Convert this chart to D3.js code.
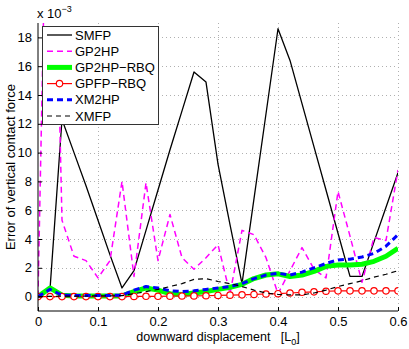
<!DOCTYPE html>
<html>
<head>
<meta charset="utf-8">
<script src="https://cdn.jsdelivr.net/npm/d3@7"></script>
<style>
  body { margin: 0; background: #fff; }
  text { font-family: "Liberation Sans", Arial, sans-serif; }
</style>
</head>
<body>
<div class="chart"></div>
<script>
// displacement samples [L0]
const xs = [0, 0.02, 0.04, 0.06, 0.08, 0.10, 0.12, 0.14, 0.16, 0.18, 0.20, 0.22, 0.24, 0.26, 0.28, 0.30,
            0.32, 0.34, 0.36, 0.38, 0.40, 0.42, 0.44, 0.46, 0.48, 0.50, 0.52, 0.54, 0.56, 0.58, 0.60];

// errors (x 1e-3)
const smfp    = [0, 0.5, 12.3, 10.0, 7.7, 5.3, 2.9, 0.6, 1.8, 4.6, 7.4, 10.2, 12.9, 15.6, 14.9, 9.2,
                 5.0, 0.9, 6.8, 12.7, 18.6, 16.4, 13.4, 10.4, 7.4, 4.4, 1.4, 1.4, 3.8, 6.2, 8.6];
const gp2hp   = [0, 42, 5.3, 2.8, 2.5, 1.3, 2.5, 8.0, 1.4, 7.9, 2.5, 5.7, 2.7, 1.9, 2.7, 3.6,
                 0.2, 4.6, 4.3, 2.7, 0.2, 1.8, 3.4, 1.9, 1.3, 7.3, 4.2, 1.0, 4.1, 3.9, 8.8];
const gp2hpRbq = [0, 0.6, 0.1, 0.05, 0.05, 0.05, 0.05, 0.05, 0.35, 0.6, 0.45, 0.2, 0.15, 0.25, 0.35, 0.5,
                 0.65, 0.85, 1.25, 1.5, 1.58, 1.4, 1.5, 1.75, 2.1, 2.2, 2.2, 2.25, 2.45, 2.8, 3.35];
const gpfpRbq = [0, 0, 0, 0, 0, 0, 0, 0, 0.01, 0.02, 0.02, 0.03, 0.04, 0.05, 0.06, 0.08,
                 0.1, 0.12, 0.15, 0.18, 0.2, 0.25, 0.3, 0.33, 0.37, 0.4, 0.4, 0.4, 0.4, 0.4, 0.4];
const xm2hp   = [0, 0.5, 0.1, 0.08, 0.08, 0.08, 0.08, 0.1, 0.45, 0.7, 0.6, 0.4, 0.35, 0.4, 0.5, 0.6,
                 0.7, 0.9, 1.25, 1.5, 1.62, 1.5, 1.7, 2.0, 2.3, 2.55, 2.6, 2.75, 3.0, 3.5, 4.3];
const xmfp    = [0, 0.02, 0.03, 0.03, 0.04, 0.05, 0.05, 0.07, 0.2, 0.35, 0.5, 0.7, 0.9, 1.2, 1.25, 1.05,
                 0.9, 0.7, 0.45, 0.25, 0.15, 0.12, 0.12, 0.25, 0.45, 0.7, 0.9, 1.1, 1.35, 1.55, 1.8];

const xTicks = [0, 0.1, 0.2, 0.3, 0.4, 0.5, 0.6];
const yTicks = [0, 2, 4, 6, 8, 10, 12, 14, 16, 18];

const series = [
  {name: "SMFP",      values: smfp,     color: "#000",    width: 1.3, dash: null},
  {name: "GP2HP",     values: gp2hp,    color: "#ff00ff", width: 1.5, dash: "6,4"},
  {name: "GP2HP−RBQ", values: gp2hpRbq, color: "#00ff00", width: 5,   dash: null},
  {name: "GPFP−RBQ",  values: gpfpRbq,  color: "#ff0000", width: 1.2, dash: null, marker: true},
  {name: "XM2HP",     values: xm2hp,    color: "#0000ff", width: 3,   dash: "6,4"},
  {name: "XMFP",      values: xmfp,     color: "#000",    width: 1.2, dash: "5,4"}
];

const width = 409, height = 349;
const pLeft = 38, pRight = 398, pTop = 23, pBottom = 311;

const svg = d3.select(".chart").append("svg")
  .attr("width", width).attr("height", height);

const x = d3.scaleLinear().domain([0, 0.6]).range([pLeft, pRight]);
const y = d3.scaleLinear().domain([-1, 19]).range([pBottom, pTop]);

// grid
const grid = svg.append("g").attr("stroke", "#b0b0b0").attr("stroke-dasharray", "1,3").attr("stroke-width", 1);
grid.selectAll(".gx").data(xTicks.slice(1)).enter().append("line")
  .attr("x1", d => Math.round(x(d)) + 0.5).attr("x2", d => Math.round(x(d)) + 0.5)
  .attr("y1", pTop).attr("y2", pBottom);
grid.selectAll(".gy").data(yTicks).enter().append("line")
  .attr("x1", pLeft).attr("x2", pRight)
  .attr("y1", d => Math.round(y(d)) + 0.5).attr("y2", d => Math.round(y(d)) + 0.5);

svg.append("clipPath").attr("id", "clip").append("rect")
  .attr("x", pLeft).attr("y", pTop).attr("width", pRight - pLeft).attr("height", pBottom - pTop);

const plot = svg.append("g").attr("clip-path", "url(#clip)");
const line = d3.line().x((d, i) => x(xs[i])).y(d => y(d));

series.forEach(s => {
  plot.append("path")
    .attr("d", line(s.values))
    .attr("fill", "none")
    .attr("stroke", s.color)
    .attr("stroke-width", s.width)
    .attr("stroke-dasharray", s.dash)
    .attr("stroke-linejoin", "round");
  if (s.marker) {
    plot.selectAll(".m").data(s.values).enter().append("circle")
      .attr("cx", (d, i) => x(xs[i])).attr("cy", d => y(d)).attr("r", 3.2)
      .attr("fill", "#fff").attr("stroke", s.color).attr("stroke-width", 1.2);
  }
});

// axes, MATLAB style: ticks inside
const xAxis = d3.axisBottom(x).tickValues(xTicks).tickSize(-4).tickPadding(6).tickFormat(d3.format("~g"));
const yAxis = d3.axisLeft(y).tickValues(yTicks).tickSize(-4).tickPadding(6);

svg.append("g").attr("transform", `translate(0,${pBottom})`).call(xAxis)
  .call(g => g.select(".domain").attr("d", `M${pLeft},0H${pRight}`))
  .selectAll("text").attr("font-size", 13).attr("font-family", "Liberation Sans, Arial, sans-serif").attr("fill", "#000");
svg.append("g").attr("transform", `translate(${pLeft},0)`).call(yAxis)
  .call(g => g.select(".domain").attr("d", `M0,${pTop}V${pBottom}`))
  .selectAll("text").attr("font-size", 13).attr("font-family", "Liberation Sans, Arial, sans-serif").attr("fill", "#000");

// exponent label
const expo = svg.append("text").attr("x", 37).attr("y", 18).attr("font-size", 13);
expo.append("tspan").text("x 10");
expo.append("tspan").attr("dy", -6).attr("font-size", 9).text("−3");

// axis labels
svg.append("text")
  .attr("transform", `translate(15,${(pTop + pBottom) / 2}) rotate(-90)`)
  .attr("text-anchor", "middle").attr("font-size", 13)
  .text("Error of vertical contact force");

const xl = svg.append("text")
  .attr("x", (pLeft + pRight) / 2).attr("y", 341)
  .attr("text-anchor", "middle").attr("font-size", 12.5)
  .attr("xml:space", "preserve");
xl.append("tspan").text("downward displacement   [L");
xl.append("tspan").attr("dy", 4).attr("font-size", 9).text("0");
xl.append("tspan").attr("dy", -4).text("]");

// legend
const lg = svg.append("g");
lg.append("rect").attr("x", 42.5).attr("y", 26.5).attr("width", 116).attr("height", 98)
  .attr("fill", "#fff").attr("stroke", "#333").attr("stroke-width", 1);
series.forEach((s, i) => {
  const ly = 35 + i * 16.2;
  lg.append("line").attr("x1", 47).attr("x2", 72).attr("y1", ly).attr("y2", ly)
    .attr("stroke", s.color).attr("stroke-width", s.width)
    .attr("stroke-dasharray", s.dash);
  if (s.marker) {
    lg.append("circle").attr("cx", 59.5).attr("cy", ly).attr("r", 3.2)
      .attr("fill", "#fff").attr("stroke", s.color).attr("stroke-width", 1.2);
  }
  lg.append("text").attr("x", 75).attr("y", ly + 4.6).attr("font-size", 13).text(s.name);
});
</script>
</body>
</html>
